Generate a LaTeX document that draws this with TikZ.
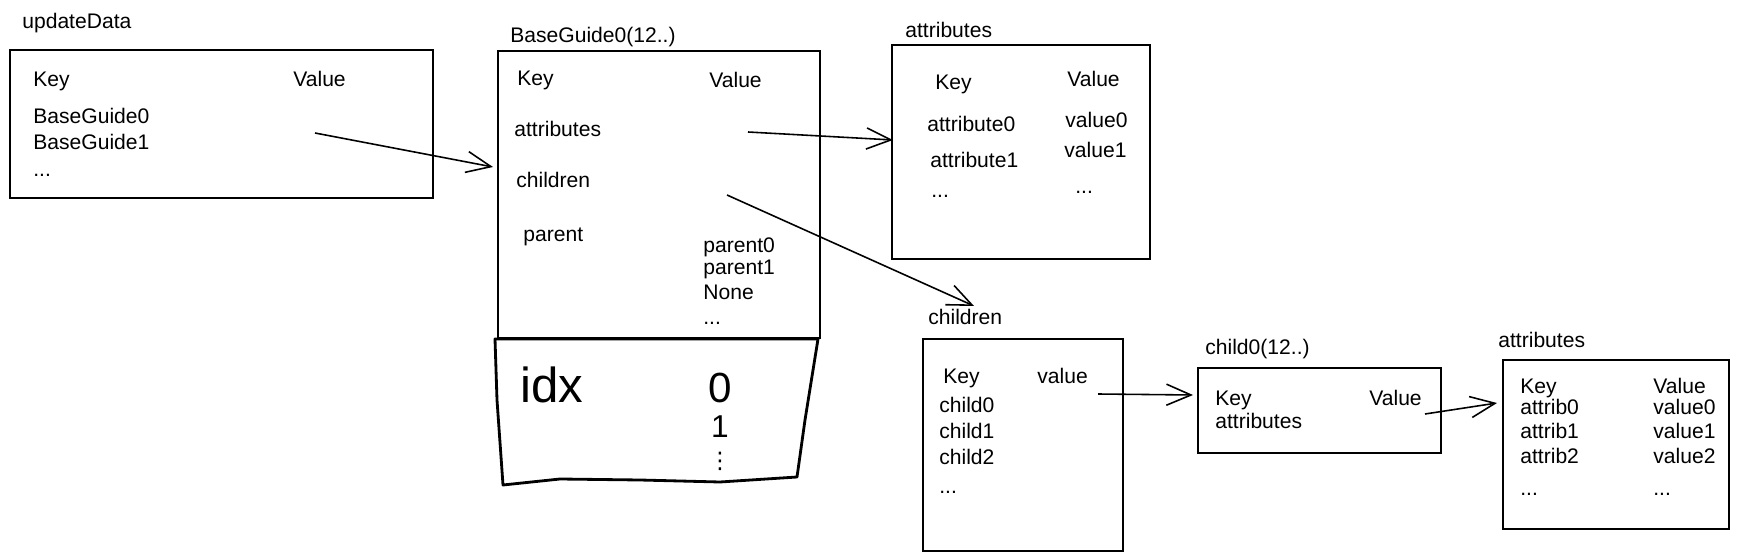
\documentclass[tikz,border=0pt]{standalone}
\usepackage{fontspec}
\setmainfont{Liberation Sans}
\newfontfamily\symfont{DejaVu Sans}
\usetikzlibrary{arrows.meta, calc}

\begin{document}
\begin{tikzpicture}[x=0.02cm, y=-0.02cm, >={Straight Barb[length=14pt,width=12pt]},
    every node/.style={font=\fontsize{12}{14}\selectfont},
    box/.style={draw, rectangle, line width=0.9pt, inner sep=0pt, outer sep=0pt, anchor=north west},
    lbl/.style={anchor=base west, inner sep=0pt},
    link/.style={->, line width=0.9pt}]
    \useasboundingbox (0,0) rectangle (1740,560);

    % updateData
    \node[lbl] (updT) at (22,29) {updateData};
    \node[box, minimum width=8.46cm, minimum height=2.96cm] (upd) at (10,50) {};
    \node[lbl] (updK) at (33,87) {Key};
    \node[lbl] (updV) at (293,87) {Value};
    \node[lbl] (upd0) at (33,124) {BaseGuide0};
    \node[lbl] (upd1) at (33,150) {BaseGuide1};
    \node[lbl] (updD) at (33,177) {...};

    % BaseGuide0
    \node[lbl] (bgT) at (510,43) {BaseGuide0(12..)};
    \node[box, minimum width=6.44cm, minimum height=5.74cm] (bg) at (498,51) {};
    \node[lbl] (bgK) at (517,86) {Key};
    \node[lbl] (bgV) at (709,88) {Value};
    \node[lbl] (bgA) at (514,137) {attributes};
    \node[lbl] (bgC) at (516,188) {children};
    \node[lbl] (bgP) at (523,242) {parent};
    \node[lbl] (bgP0) at (703,253) {parent0};
    \node[lbl] (bgP1) at (703,275) {parent1};
    \node[lbl] (bgN) at (703,300) {None};
    \node[lbl] (bgD) at (703,325) {...};

    % idx
    \draw[line width=1.6pt, line join=round] (495,339) -- (497,400) -- (503,485) -- (560,479)
        -- (640,480) -- (720,482) -- (797,477) -- (805,420) -- (818,339) -- cycle;
    \node[lbl, font=\fontsize{28}{30}\selectfont] (idx) at (520,402) {idx};
    \node[anchor=base, inner sep=0pt, font=\fontsize{24}{26}\selectfont] (i0) at (720,402) {0};
    \node[anchor=base, inner sep=0pt, font=\fontsize{18}{20}\selectfont] (i1) at (720,437) {1};
    \node[anchor=base, inner sep=0pt, font=\symfont\fontsize{13}{13}\selectfont] (iD) at (720,468) {⋮};

    % attributes
    \node[lbl] (atT) at (905,38) {attributes};
    \node[box, minimum width=5.16cm, minimum height=4.28cm] (at) at (892,45) {};
    \node[lbl] (atK) at (935,90) {Key};
    \node[lbl] (atV) at (1067,87) {Value};
    \node[lbl] (at0) at (927,132) {attribute0};
    \node[lbl] (atv0) at (1065,128) {value0};
    \node[lbl] (at1) at (930,168) {attribute1};
    \node[lbl] (atv1) at (1064,158) {value1};
    \node[lbl] (atD) at (931,198) {...};
    \node[lbl] (atvD) at (1075,194) {...};

    % children
    \node[lbl] (chT) at (928,325) {children};
    \node[box, minimum width=4.0cm, minimum height=4.24cm] (ch) at (923,339) {};
    \node[lbl] (chK) at (943,383) {Key};
    \node[lbl] (chV) at (1037,383) {value};
    \node[lbl] (ch0) at (939,412) {child0};
    \node[lbl] (ch1) at (939,438) {child1};
    \node[lbl] (ch2) at (939,464) {child2};
    \node[lbl] (chD) at (939,493) {...};

    % child0
    \node[lbl] (cdT) at (1205,355) {child0(12..)};
    \node[box, minimum width=4.86cm, minimum height=1.7cm] (cd) at (1198,368) {};
    \node[lbl] (cdK) at (1215,405) {Key};
    \node[lbl] (cdV) at (1369,405) {Value};
    \node[lbl] (cdA) at (1215,428) {attributes};

    % attributes of child
    \node[lbl] (caT) at (1498,347) {attributes};
    \node[box, minimum width=4.52cm, minimum height=3.38cm] (ca) at (1503,360) {};
    \node[lbl] (caK) at (1520,393) {Key};
    \node[lbl] (caV) at (1653,393) {Value};
    \node[lbl] (ca0) at (1520,414) {attrib0};
    \node[lbl] (cav0) at (1653,414) {value0};
    \node[lbl] (ca1) at (1520,438) {attrib1};
    \node[lbl] (cav1) at (1653,438) {value1};
    \node[lbl] (ca2) at (1520,463) {attrib2};
    \node[lbl] (cav2) at (1653,463) {value2};
    \node[lbl] (caD) at (1520,495) {...};
    \node[lbl] (cavD) at (1653,495) {...};

    % links
    \coordinate (s1) at (315,133);  \coordinate (e1) at (493,167);
    \coordinate (s2) at (748,132);  \coordinate (e2) at (893,140);
    \coordinate (s3) at (727,195);  \coordinate (e3) at (974,306);
    \coordinate (s4) at (1098,394); \coordinate (e4) at (1193,395);
    \coordinate (s5) at (1425,414); \coordinate (e5) at (1497,403);
    \draw[link] (s1) -- (e1);
    \draw[link] (s2) -- (e2);
    \draw[link] (s3) -- (e3);
    \draw[link] (s4) -- (e4);
    \draw[link] (s5) -- (e5);
\end{tikzpicture}
\end{document}
